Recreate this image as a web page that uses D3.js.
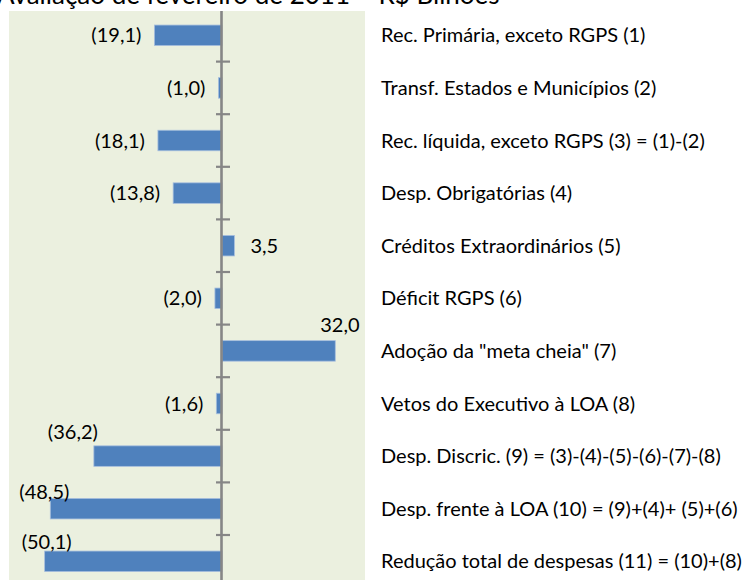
<!DOCTYPE html>
<html><head><meta charset="utf-8">
<script src="https://cdn.jsdelivr.net/npm/d3@7"></script>
<style>
html,body{margin:0;padding:0;background:#fff;}
svg{display:block;}
text{font-family:Lato,"Open Sans",sans-serif;fill:#000;}
</style></head>
<body>
<svg id="chart" width="746" height="580"></svg>
<script>
// ---- DATA ----
const title = "Avaliação de fevereiro de 2011 – R$ Bilhões";
const categories = [
  "Rec. Primária, exceto RGPS (1)",
  "Transf. Estados e Municípios (2)",
  "Rec. líquida, exceto RGPS (3) = (1)-(2)",
  "Desp. Obrigatórias (4)",
  "Créditos Extraordinários (5)",
  "Déficit RGPS (6)",
  "Adoção da \"meta cheia\" (7)",
  "Vetos do Executivo à LOA (8)",
  "Desp. Discric. (9) = (3)-(4)-(5)-(6)-(7)-(8)",
  "Desp. frente à LOA (10) = (9)+(4)+ (5)+(6)",
  "Redução total de despesas (11) = (10)+(8)"
];
const values = [-19.1, -1.0, -18.1, -13.8, 3.5, -2.0, 32.0, -1.6, -36.2, -48.5, -50.1];

// ---- LAYOUT (label placement: "side" next to bar end, "above" over bar) ----
const labelMode = ["side","side","side","side","side","side","above","side","above","above","above"];
const aboveDx = {6: -15, 8: -46, 9: -31, 10: -23};   // offset of label start from bar's outer end
const aboveDy = {6: -9, 8: -7, 9: 1, 10: -2};        // baseline offset from bar top

const fmt = v => {
  const s = Math.abs(v).toFixed(1).replace(".", ",");
  return v < 0 ? "(" + s + ")" : s;
};

const svg = d3.select("#chart");
const plot = {left: 9, right: 365, top: 11, bottom: 600};

svg.append("rect")
  .attr("x", plot.left).attr("y", plot.top)
  .attr("width", plot.right - plot.left).attr("height", plot.bottom - plot.top)
  .attr("fill", "#EBF0DF");

const x = d3.scaleLinear().domain([0, 1]).range([222, 222 + 3.54]);
const y = d3.scaleBand().domain(categories).range([9, 9 + 11 * 52.6]).paddingInner(0.61).paddingOuter(0.305);

// bars
svg.append("g").selectAll("rect").data(values).join("rect")
  .attr("x", d => Math.min(x(0), x(d)))
  .attr("width", d => Math.abs(x(d) - x(0)))
  .attr("y", (d, i) => y(categories[i]))
  .attr("height", y.bandwidth())
  .attr("fill", "#4F81BD")
  .attr("stroke", "#A7BFDE").attr("stroke-width", 0.8);

// axis line & tick marks at category boundaries
const step = y.step();
const boundaries = categories.slice(1).map(c => y(c) - (step - y.bandwidth()) / 2);
const axisG = svg.append("g");
axisG.append("line")
  .attr("x1", x(0) - 0.5).attr("x2", x(0) - 0.5)
  .attr("y1", plot.top).attr("y2", 580)
  .attr("stroke", "#868686").attr("stroke-width", 2.6);
axisG.selectAll("line.tick").data(boundaries).join("line").attr("class", "tick")
  .attr("x1", x(0) - 6).attr("x2", x(0) + 8)
  .attr("y1", d => d).attr("y2", d => d)
  .attr("stroke", "#868686").attr("stroke-width", 2.2);

// value labels
const fs = 20;
svg.append("g").selectAll("text").data(values).join("text")
  .attr("font-size", fs)
  .each(function(d, i) {
    const t = d3.select(this).text(fmt(d));
    const top = y(categories[i]);
    if (labelMode[i] === "side") {
      if (d < 0) t.attr("x", x(d) - 13).attr("text-anchor", "end");
      else t.attr("x", x(d) + 16).attr("text-anchor", "start");
      t.attr("y", top + y.bandwidth() / 2).attr("dy", "0.35em");
    } else {
      t.attr("x", x(d) + aboveDx[i]).attr("text-anchor", "start")
       .attr("y", top + aboveDy[i]);
    }
  });

// category labels
svg.append("g").selectAll("text").data(categories).join("text")
  .attr("x", 381)
  .attr("y", d => y(d) + y.bandwidth() / 2)
  .attr("dy", "0.35em")
  .attr("font-size", fs)
  .text(d => d);

// title (cropped at top, as in the original)
svg.append("text").attr("x", -3).attr("y", 4).attr("font-size", 26).text(title);
</script>
</body></html>
